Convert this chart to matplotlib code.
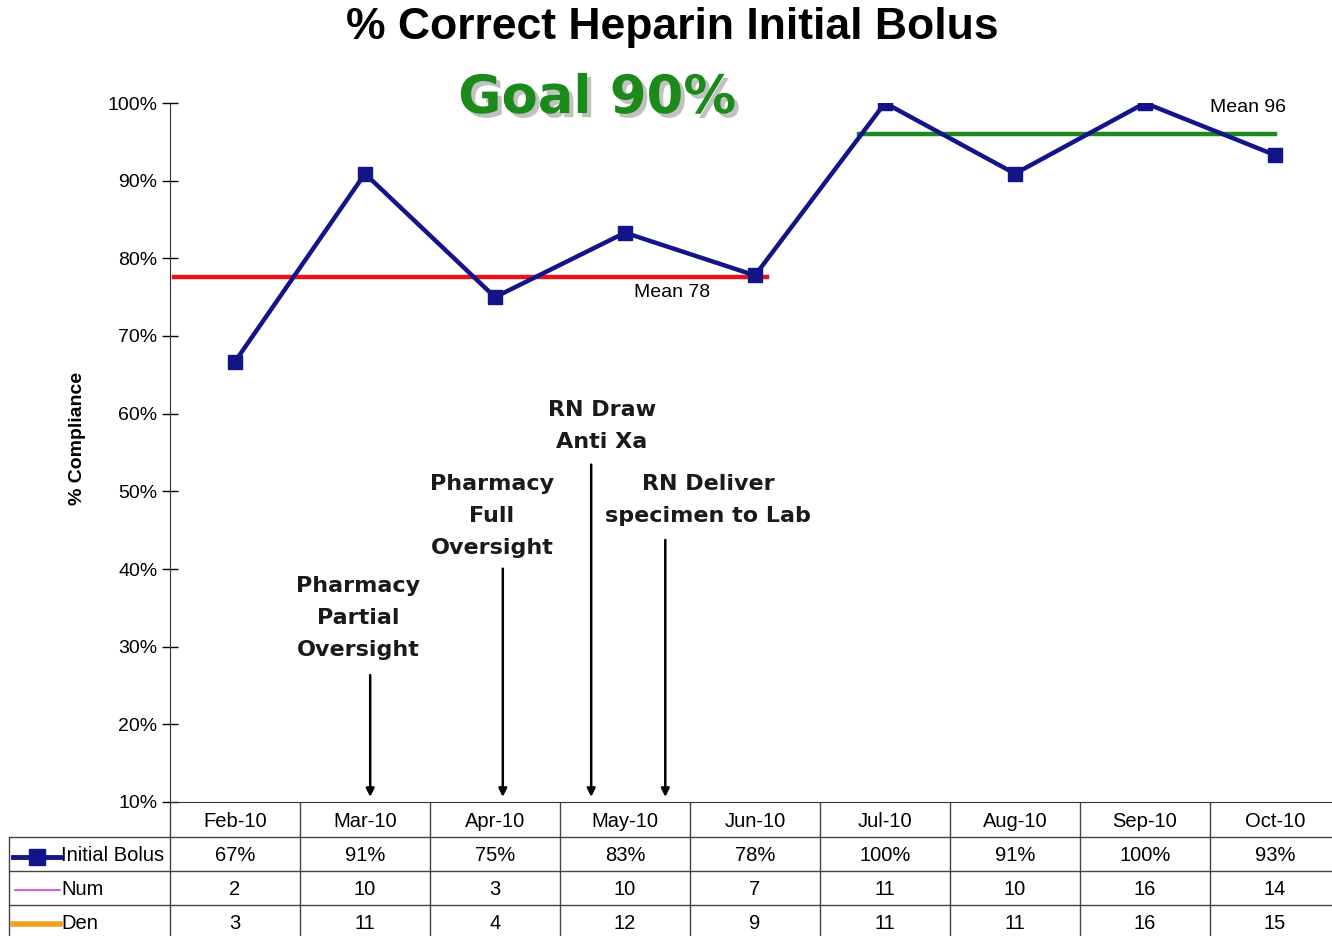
import numpy as np
import matplotlib
matplotlib.use('Agg')
import matplotlib.pyplot as plt
import matplotlib.patheffects as pe

months = ['Feb-10', 'Mar-10', 'Apr-10', 'May-10', 'Jun-10', 'Jul-10', 'Aug-10', 'Sep-10', 'Oct-10']
bolus_pct = [66.7, 90.9, 75.0, 83.3, 77.8, 100.0, 90.9, 100.0, 93.3]
bolus_lbl = ['67%', '91%', '75%', '83%', '78%', '100%', '91%', '100%', '93%']
num = [2, 10, 3, 10, 7, 11, 10, 16, 14]
den = [3, 11, 4, 12, 9, 11, 11, 16, 15]
mean_before = 77.6
mean_after = 96.0
yticks = [10, 20, 30, 40, 50, 60, 70, 80, 90, 100]

navy = '#14148a'
W, H = 1332, 936

fig = plt.figure(figsize=(W / 100, H / 100), dpi=100)
fig.patch.set_facecolor('white')

# main plot: x from 170px to 1340px, y from 103px (100%) to 802px (10%)
ax = fig.add_axes([170 / W, 1 - 802 / H, 1170 / W, (802 - 103) / H])
x = np.arange(len(months))
ax.plot(x, bolus_pct, color=navy, lw=3.2, marker='s', ms=10, mec=navy, mfc=navy, zorder=5)
ax.plot([-0.47, 4.09], [mean_before, mean_before], color='#e8141b', lw=3.2, zorder=4)
ax.plot([4.8, 8.0], [mean_after, mean_after], color='#1e8a1e', lw=3.2, zorder=4)
ax.text(3.36, 75.6, 'Mean 78', ha='center', va='center', fontsize=14, family='Liberation Sans')
ax.text(7.79, 99.4, 'Mean 96', ha='center', va='center', fontsize=14, family='Liberation Sans')

ax.set_xlim(-0.5, 8.5)
ax.set_ylim(10, 100)
ax.set_yticks(yticks)
ax.set_yticklabels([f'{v}%' for v in yticks], fontsize=14, family='Liberation Sans')
ax.tick_params(axis='y', direction='inout', length=12, width=1, pad=3)
ax.set_xticks([])
for s in ['top', 'right']:
    ax.spines[s].set_visible(False)
ax.spines['left'].set_color('#333333')
ax.spines['bottom'].set_color('#333333')

# interventions
notes = [
    ('Pharmacy\nPartial\nOversight', 0.946, 33.7, 1.04, 26.7),
    ('Pharmacy\nFull\nOversight', 1.977, 46.8, 2.06, 40.4),
    ('RN Draw\nAnti Xa', 2.823, 58.4, 2.74, 53.8),
    ('RN Deliver\nspecimen to Lab', 3.638, 48.9, 3.31, 44.1),
]
for txt, tx, ty, axx, ay in notes:
    ax.text(tx, ty, txt, ha='center', va='center', fontsize=16, fontweight='bold',
            family='DejaVu Sans', color='#1a1a1a', linespacing=1.75)
    ax.annotate('', xy=(axx, 10.3), xytext=(axx, ay),
                arrowprops=dict(arrowstyle='-|>', color='black', lw=1.8, mutation_scale=12))

# titles
fig.text(672 / W, 1 - 27 / H, '% Correct Heparin Initial Bolus', ha='center', va='center',
         fontsize=32, fontweight='bold', family='Liberation Sans')
fig.text(597 / W, 1 - 98 / H, 'Goal 90%', ha='center', va='center', fontsize=38,
         fontweight='bold', family='DejaVu Sans', color='#1a8a1a',
         path_effects=[pe.withSimplePatchShadow(offset=(3, -3), shadow_rgbFace='#999999', alpha=0.6)])
fig.text(77 / W, 1 - 438 / H, '% Compliance', rotation=90, ha='center', va='center',
         fontsize=14, fontweight='bold', family='Liberation Sans')

# data table below the plot
tx0 = -0.5 - (170 - 9) / 130
tax = fig.add_axes([9 / W, 1 - 939 / H, (1340 - 9) / W, (939 - 803) / H])
tax.set_xlim(tx0, 8.5)
tax.set_ylim(4, 0)
tax.axis('off')
lc = '#444444'
for k in range(10):
    tax.plot([k - 0.5, k - 0.5], [0, 4], color=lc, lw=1, clip_on=False)
tax.plot([tx0, tx0], [1, 4], color=lc, lw=1, clip_on=False)
for r in [1, 2, 3, 4]:
    tax.plot([tx0, 8.5], [r, r], color=lc, lw=1, clip_on=False)

rows = [months, bolus_lbl, [str(v) for v in num], [str(v) for v in den]]
for r, vals in enumerate(rows):
    for i, v in enumerate(vals):
        tax.text(i, r + 0.55, v, ha='center', va='center', fontsize=14.5, family='Liberation Sans')

lx0 = tx0 + 4 / 130
lx1 = tx0 + 51 / 130
tax.plot([lx0, lx1], [1.6, 1.6], color=navy, lw=3.5, clip_on=False)
tax.plot([(lx0 + lx1) / 2], [1.6], marker='s', ms=11, color=navy, clip_on=False)
tax.plot([lx0 + 0.015, lx1], [2.55, 2.55], color='#d040d0', lw=1.2, clip_on=False)
tax.plot([lx0, lx1], [3.55, 3.55], color='#f0a020', lw=4, clip_on=False)
for r, lab in zip([1, 2, 3], ['Initial Bolus', 'Num', 'Den']):
    tax.text(lx1 + 0.01, r + 0.55, lab, ha='left', va='center', fontsize=14.5, family='Liberation Sans')

fig.savefig('out.png', dpi=100)
